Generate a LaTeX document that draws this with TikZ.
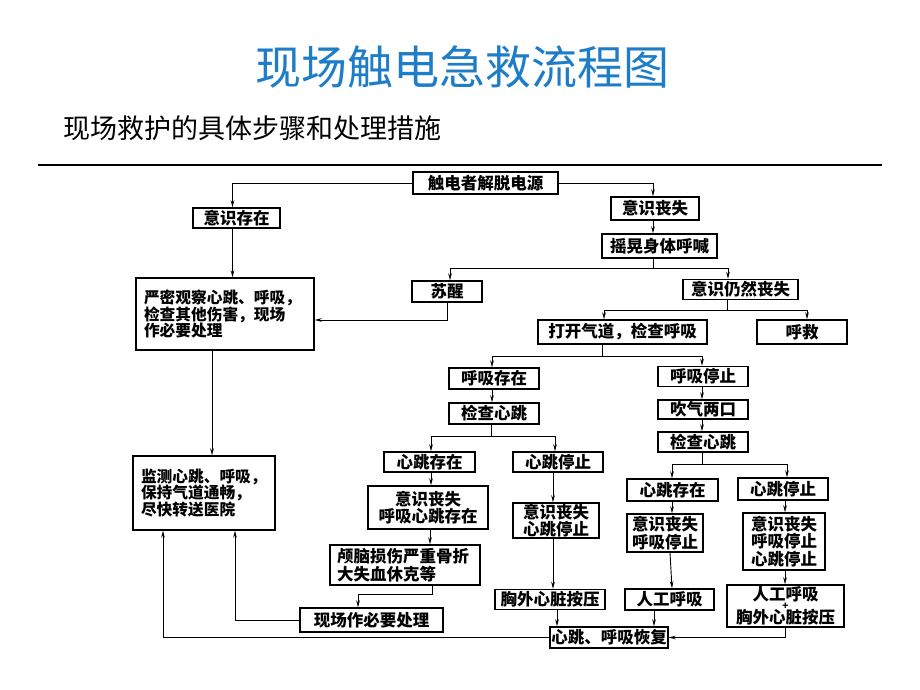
\documentclass[tikz,border=0pt]{standalone}
\usepackage{fontspec}
\newfontfamily\cjk{Noto Sans CJK SC}
\usetikzlibrary{arrows.meta}
\definecolor{titleblue}{RGB}{30,125,200}
\begin{document}
\begin{tikzpicture}[x=1pt,y=-1pt,
  box/.style={draw, line width=1.4pt, inner sep=0pt, align=center,
    font=\cjk\bfseries\fontsize{16.5}{17.5}\selectfont},
  lbox/.style={box, align=left, font=\cjk\bfseries\fontsize{15.7}{16.7}\selectfont},
  conn/.style={line width=0.9pt},
  arr/.style={conn, -{Stealth[length=7pt,width=3.6pt]}}]
\useasboundingbox (0,0) rectangle (920,690);
\fill[white] (0,0) rectangle (920,690);
% header
\node[font=\cjk\fontsize{46}{52}\selectfont, text=titleblue] (title) at (462,67) {现场触电急救流程图};
\node[font=\cjk\fontsize{27}{30}\selectfont, anchor=west] (sub) at (60,128) {现场救护的具体步骤和处理措施};
\coordinate (rl) at (38,165);
\coordinate (rr) at (882,165);
\draw[line width=2.4pt] (rl) -- (rr);
% boxes
\node[box, minimum width=145, minimum height=22] (src) at (485.5,183) {触电者解脱电源};
\node[box, minimum width=87, minimum height=20] (ysc) at (236.5,218) {意识存在};
\node[lbox, minimum width=178, minimum height=72, text width=162] (obs) at (225,314) {严密观察心跳、呼吸，\\检查其他伤害，现场\\作必要处理};
\node[lbox, minimum width=142, minimum height=74, text width=126] (mon) at (204,493) {监测心跳、呼吸，\\保持气道通畅，\\尽快转送医院};
\node[box, minimum width=70, minimum height=21] (wake) at (447,291.5) {苏醒};
\node[box, minimum width=88, minimum height=23] (ys) at (655,208.5) {意识丧失};
\node[box, minimum width=115, minimum height=24] (shake) at (659.5,246) {摇晃身体呼喊};
\node[box, minimum width=115, minimum height=20] (still) at (740.5,289.5) {意识仍然丧失};
\node[box, minimum width=169, minimum height=24] (open) at (622.5,332) {打开气道，检查呼吸};
\node[box, minimum width=90, minimum height=24] (help) at (802,332) {呼救};
\node[box, minimum width=90, minimum height=21] (bh) at (494,378.5) {呼吸存在};
\node[box, minimum width=90, minimum height=21] (chk1) at (494,413.5) {检查心跳};
\node[box, minimum width=91, minimum height=20] (hb1) at (429.5,462) {心跳存在};
\node[box, minimum width=90, minimum height=20] (hs1) at (558,462) {心跳停止};
\node[box, minimum width=120, minimum height=43] (ys2) at (428,507.5) {意识丧失\\呼吸心跳存在};
\node[box, align=left, minimum width=150, minimum height=40, text width=136] (brain) at (405,565) {颅脑损伤严重骨折\\大失血休克等};
\node[box, minimum width=143, minimum height=24] (proc) at (371.5,620) {现场作必要处理};
\node[box, minimum width=86, minimum height=35] (ys3) at (556,520.5) {意识丧失\\心跳停止};
\node[box, minimum width=110, minimum height=20] (cpr) at (550,599.5) {胸外心脏按压};
\node[box, minimum width=118, minimum height=21] (rec) at (609,637.5) {心跳、呼吸恢复};
\node[box, minimum width=90, minimum height=20] (bs) at (703,376.5) {呼吸停止};
\node[box, minimum width=90, minimum height=19] (blow) at (703,409.5) {吹气两口};
\node[box, minimum width=90, minimum height=20] (chk2) at (703,442) {检查心跳};
\node[box, minimum width=91, minimum height=22] (hb2) at (672.5,490) {心跳存在};
\node[box, minimum width=90, minimum height=22] (hs2) at (783,489) {心跳停止};
\node[box, minimum width=76, minimum height=38] (ys4) at (665,533) {意识丧失\\呼吸停止};
\node[box, minimum width=89, minimum height=21] (ar) at (669.5,599.5) {人工呼吸};
\node[box, minimum width=82, minimum height=57] (ys5) at (784,541.5) {意识丧失\\呼吸停止\\心跳停止};
\node[box, minimum width=117, minimum height=42, font=\cjk\bfseries\fontsize{16.5}{23}\selectfont] (arcpr) at (785.5,606) {人工呼吸\\胸外心脏按压};
\node[font=\cjk\bfseries\fontsize{10}{10}\selectfont, inner sep=0pt] (plus) at (785.5,606.5) {+};
% junctions
\coordinate (j1) at (653,268);
\coordinate (j2) at (727,310);
\coordinate (j3) at (602,356);
\coordinate (j4) at (491,436);
\coordinate (j5) at (358,594);
\coordinate (j6) at (702,464);
% connectors
\draw[arr] (src.west) -| ([xshift=-4pt]ysc.north);
\draw[arr] (src.east) -| ([xshift=-2pt]ys.north);
\draw[arr] ([xshift=-4pt]ysc.south) -- ([xshift=-4pt]ysc.south |- obs.north);
\draw[arr] ([xshift=-13pt]obs.south) -- ([xshift=8pt]mon.north);
\draw[arr] (wake.south) |- ([yshift=-6pt]obs.east);
\draw[arr] ([xshift=-2pt]ys.south) -- ([xshift=-2pt]ys.south |- shake.north);
\draw[conn] (j1 |- shake.south) -- (j1);
\draw[arr] (j1) -| ([xshift=3pt]wake.north);
\draw[arr] (j1) -| ([xshift=-12.5pt]still.north);
\draw[conn] (j2 |- still.south) -- (j2);
\draw[arr] (j2) -| ([xshift=-18.5pt]open.north);
\draw[arr] (j2) -| ([xshift=5pt]help.north);
\draw[conn] (j3 |- open.south) -- (j3);
\draw[arr] (j3) -| ([xshift=-2pt]bh.north);
\draw[arr] (j3) -| ([xshift=-1pt]bs.north);
\draw[arr] ([xshift=-2pt]bh.south) -- ([xshift=-2pt]chk1.north);
\draw[conn] (j4 |- chk1.south) -- (j4);
\draw[arr] (j4) -| ([xshift=1.5pt]hb1.north);
\draw[arr] (j4) -| ([xshift=-3pt]hs1.north);
\draw[arr] ([xshift=1.5pt]hb1.south) -- ([xshift=3pt]ys2.north);
\draw[arr] ([xshift=-5pt]hs1.south) -- ([xshift=-3pt]ys3.north);
\draw[arr] ([xshift=2pt]ys2.south) -- ([xshift=25pt]brain.north);
\draw[arr] ([xshift=27pt]brain.south) |- (j5) -- (j5 |- proc.north);
\draw[arr] (proc.west) -| ([xshift=31pt]mon.south);
\draw[arr] ([xshift=-3pt]ys3.south) -- ([xshift=3pt]cpr.north);
\draw[arr] ([xshift=7pt]cpr.south) -- ([xshift=-52pt]rec.north);
\draw[arr] ([xshift=-1pt]bs.south) -- ([xshift=-1pt]blow.north);
\draw[arr] ([xshift=-1pt]blow.south) -- ([xshift=-1pt]chk2.north);
\draw[conn] (j6 |- chk2.south) -- (j6);
\draw[arr] (j6) -| ([xshift=-0.5pt]hb2.north);
\draw[arr] (j6) -| ([xshift=4pt]hs2.north);
\draw[arr] ([xshift=-0.5pt]hb2.south) -- ([xshift=7pt]ys4.north);
\draw[arr] ([xshift=5pt]ys4.south) -- ([xshift=2.5pt]ar.north);
\draw[arr] ([xshift=-15.5pt]ar.south) -- ([xshift=45pt]rec.north);
\draw[arr] ([xshift=2pt]hs2.south) -- ([xshift=1pt]ys5.north);
\draw[arr] ([xshift=1pt]ys5.south) -- ([xshift=-0.5pt]arcpr.north);
\draw[arr] ([xshift=-0.5pt]arcpr.south) |- (rec.east);
\draw[arr] (rec.west) -| ([xshift=-41pt]mon.south);
\end{tikzpicture}
\end{document}
